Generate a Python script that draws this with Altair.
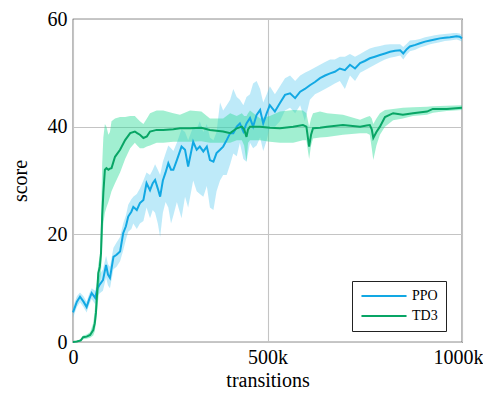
import altair as alt
import pandas as pd

# ---- data (x in thousands of transitions) ----
ppo_k = [0, 10, 18, 27, 35, 42, 48, 57, 63, 68, 77, 85, 90, 95, 104, 112, 121, 129, 136, 142,
         150, 155, 164, 172, 181, 189, 198, 205, 211, 218, 224, 231, 238, 245, 252, 258, 267, 279, 288, 296,
         309, 318, 326, 335, 344, 352, 361, 369, 378, 386, 395, 404, 412, 421, 429, 438, 446, 455, 463, 472,
         481, 489, 498, 506, 519, 532, 545, 558, 571, 584, 596, 609, 622, 635, 648, 661, 673, 686, 699, 712,
         725, 738, 750, 763, 776, 789, 802, 815, 828, 841, 849, 858, 866, 880, 892, 905, 918, 930, 943, 956,
         969, 978, 986, 994, 1000]
ppo_mean = [5.5, 7.5, 8.4, 7.5, 6.5, 8.0, 9.1, 8.2, 10.0, 10.6, 11.5, 14.3, 12.5, 11.9, 15.8, 16.2, 16.8, 20.2, 21.5, 23.3,
            24.2, 25.1, 24.5, 25.8, 26.4, 29.5, 28.2, 29.5, 30.1, 28.5, 27.0, 30.0, 31.5, 33.2, 32.0, 32.0, 33.8, 36.3, 35.7, 32.6,
            37.2, 35.7, 36.3, 35.4, 36.3, 33.8, 33.5, 35.1, 35.7, 36.3, 37.5, 38.8, 38.8, 40.0, 40.6, 39.1, 40.6, 41.6, 40.0, 42.2,
            43.1, 40.6, 42.5, 44.0, 42.8, 44.4, 45.9, 46.2, 45.3, 46.5, 47.0, 47.7, 48.3, 49.0, 49.5, 49.9, 50.2, 50.8, 50.5, 51.5,
            50.8, 51.8, 52.2, 52.7, 53.0, 53.3, 53.6, 53.9, 54.1, 54.2, 53.6, 54.4, 54.9, 55.2, 55.5, 55.8, 56.0, 56.2, 56.4, 56.5,
            56.6, 56.7, 56.8, 56.7, 56.4]
ppo_lo = [4.5, 6.5, 7.4, 6.5, 5.5, 7.0, 8.0, 7.0, 8.5, 9.0, 9.5, 12.0, 10.5, 10.0, 13.5, 14.0, 15.0, 17.0, 19.0, 20.5,
          21.0, 22.0, 21.0, 22.0, 22.5, 25.0, 23.0, 24.5, 24.0, 22.0, 19.5, 24.0, 26.0, 25.0, 22.0, 23.5, 26.0, 23.0, 27.0, 25.0,
          30.0, 28.0, 27.5, 27.0, 29.0, 25.0, 24.5, 28.0, 30.0, 31.0, 31.0, 33.0, 35.0, 34.5, 37.0, 34.0, 33.5, 37.0, 36.0, 36.5,
          38.0, 35.5, 37.5, 40.0, 40.0, 41.0, 43.0, 43.5, 42.5, 44.0, 41.0, 45.0, 46.0, 46.5, 47.0, 47.5, 48.0, 48.5, 47.0, 49.5,
          48.5, 50.0, 50.5, 51.0, 51.5, 52.0, 52.5, 52.8, 53.0, 53.2, 52.5, 53.4, 54.0, 54.3, 54.7, 55.0, 55.3, 55.5, 55.7, 55.9,
          56.0, 56.1, 56.2, 56.0, 55.8]
ppo_hi = [6.5, 8.5, 9.2, 8.5, 7.5, 9.0, 10.0, 9.5, 11.5, 12.5, 13.5, 16.0, 14.5, 14.0, 17.5, 18.5, 19.5, 22.0, 23.5, 25.5,
          26.5, 27.0, 27.5, 28.5, 30.0, 31.5, 31.0, 32.0, 33.0, 32.0, 31.0, 33.5, 35.0, 36.5, 36.0, 35.5, 37.0, 39.5, 39.0, 37.5,
          40.0, 39.5, 41.0, 39.0, 40.5, 38.0, 37.5, 39.0, 44.5, 43.0, 44.0, 45.0, 47.0, 45.5, 45.0, 44.0, 45.5, 46.0, 48.0, 48.5,
          47.0, 44.5, 46.0, 47.5, 46.0, 47.5, 49.0, 49.5, 48.5, 49.5, 50.0, 50.5, 51.0, 51.5, 52.0, 52.5, 52.5, 53.0, 53.0, 53.5,
          53.0, 53.5, 54.0, 54.5, 54.8, 55.0, 55.2, 55.3, 55.3, 55.3, 54.8, 55.4, 56.0, 56.1, 56.3, 56.6, 56.8, 57.0, 57.1, 57.2,
          57.3, 57.4, 57.4, 57.3, 57.0]

td3_k = [0, 10, 20, 26, 35, 44, 52, 56, 59, 62, 65, 69, 72, 75, 78, 82, 86, 91, 95, 99,
         108, 121, 134, 147, 159, 165, 172, 181, 190, 198, 215, 232, 258, 275, 301, 330, 352, 386, 404, 421,
         434, 440, 446, 450, 455, 481, 506, 532, 566, 591, 600, 607, 612, 617, 635, 653, 694, 738, 755, 763,
         768, 772, 780, 789, 802, 823, 848, 874, 910, 925, 961, 1000]
td3_mean = [0.0, 0.1, 0.3, 0.9, 1.0, 1.3, 2.2, 3.5, 5.4, 9.1, 12.8, 14.0, 16.5, 23.3, 27.7, 32.0, 32.3, 32.0, 32.2, 32.3,
            34.4, 35.7, 37.5, 38.8, 39.1, 38.8, 38.5, 37.9, 38.2, 39.1, 39.4, 39.4, 39.5, 39.7, 39.7, 39.8, 39.4, 39.1, 38.8, 39.7,
            40.0, 39.5, 38.1, 39.5, 40.0, 40.0, 39.8, 39.7, 40.0, 40.3, 40.0, 36.3, 38.5, 39.7, 39.8, 40.0, 40.3, 40.0, 40.2, 40.3,
            39.5, 37.9, 39.0, 40.0, 41.8, 42.5, 42.2, 42.5, 42.8, 43.3, 43.3, 43.5]
td3_lo = [0.0, 0.0, 0.1, 0.5, 0.6, 0.8, 1.2, 2.0, 3.5, 6.0, 8.0, 11.0, 13.0, 18.0, 22.0, 24.0, 25.0, 26.0, 27.0, 28.0,
          29.5, 31.5, 34.0, 36.0, 37.0, 36.5, 36.0, 36.0, 36.3, 36.5, 37.0, 37.0, 37.2, 37.2, 37.2, 37.3, 37.0, 37.0, 37.0, 37.5,
          37.5, 36.5, 33.5, 37.0, 37.5, 37.5, 37.2, 37.0, 37.0, 37.5, 37.5, 34.0, 36.5, 37.8, 38.0, 38.1, 38.5, 38.8, 38.8, 38.5,
          36.0, 33.8, 36.5, 38.5, 40.0, 41.2, 41.5, 42.0, 42.2, 42.6, 42.9, 43.1]
td3_hi = [0.0, 0.3, 0.5, 1.2, 1.4, 1.8, 3.5, 6.0, 9.0, 12.0, 14.5, 16.0, 22.0, 33.0, 38.0, 40.5, 40.0, 38.5, 39.0, 41.0,
          41.5, 41.8, 41.8, 42.0, 42.0, 41.5, 41.0, 40.5, 41.5, 42.5, 43.0, 43.0, 42.5, 42.2, 43.0, 42.8, 41.5, 41.5, 42.5, 42.0,
          42.5, 42.0, 42.0, 42.5, 43.0, 41.5, 42.0, 42.8, 43.1, 43.0, 42.5, 40.0, 41.5, 42.5, 42.8, 42.5, 42.2, 41.3, 41.8, 42.0,
          41.5, 40.5, 41.5, 42.5, 43.1, 43.3, 43.5, 43.6, 43.7, 43.8, 43.9, 44.0]

series_names = ["PPO", "TD3"]
line_colors = ["#12A8E3", "#08A565"]
band_colors = ["#4CC5EE", "#2EDC98"]

ppo = pd.DataFrame({"k": ppo_k, "mean": ppo_mean, "lo": ppo_lo, "hi": ppo_hi, "series": "PPO"})
td3 = pd.DataFrame({"k": td3_k, "mean": td3_mean, "lo": td3_lo, "hi": td3_hi, "series": "TD3"})
df = pd.concat([ppo, td3], ignore_index=True)

FONT = "Liberation Serif"

x_enc = alt.X("k:Q", scale=alt.Scale(domain=[0, 1000], nice=False, zero=False),
              axis=alt.Axis(title="transitions", values=[0, 500, 1000],
                            labelExpr="datum.value == 0 ? '0' : datum.value + 'k'",
                            labelOffset={"condition": {"test": "datum.value == 1000", "value": -4}, "value": 0},
                            grid=True, ticks=False, domain=False, labelPadding=5,
                            titleY=44, titleBaseline="alphabetic", labelFlush=False))
y_enc = alt.Y("mean:Q", scale=alt.Scale(domain=[0, 60], nice=False),
              axis=alt.Axis(title="score", values=[0, 20, 40, 60], grid=True, ticks=False,
                            domain=False, labelPadding=6, titlePadding=17))

base = alt.Chart(df)

band_ppo = base.transform_filter(alt.datum.series == "PPO").mark_area(
    color=band_colors[0], opacity=0.36).encode(x=x_enc, y=alt.Y("lo:Q"), y2="hi:Q")
band_td3 = base.transform_filter(alt.datum.series == "TD3").mark_area(
    color=band_colors[1], opacity=0.45).encode(x=x_enc, y=alt.Y("lo:Q"), y2="hi:Q")

lines = base.mark_line(strokeWidth=2).encode(
    x=x_enc, y=y_enc,
    color=alt.Color("series:N", scale=alt.Scale(domain=series_names, range=line_colors),
                    legend=alt.Legend(title=None, orient="none", legendX=279, legendY=262,
                                      strokeColor="#222", fillColor="white", padding=8,
                                      symbolType="M-4,0L4,0", symbolSize=127,
                                      symbolStrokeWidth=2.2, symbolOffset=17,
                                      labelFontSize=14, labelOffset=21, rowPadding=6,
                                      cornerRadius=0, labelFont=FONT)))

chart = alt.layer(band_ppo, band_td3, lines).properties(
    width=389, height=323,
    autosize=alt.AutoSizeParams(type="none"),
    padding={"left": 65, "top": 11, "right": 21, "bottom": 48},
).configure_view(stroke="#222", strokeWidth=1.2).configure_axis(
    labelFont=FONT, titleFont=FONT, labelFontSize=20, titleFontSize=20,
    titleFontWeight="normal", labelColor="black", titleColor="black",
    gridColor="#c4c4c4", gridWidth=1.1)

chart.save("out.html", embed_options={"renderer": "svg", "actions": False})
